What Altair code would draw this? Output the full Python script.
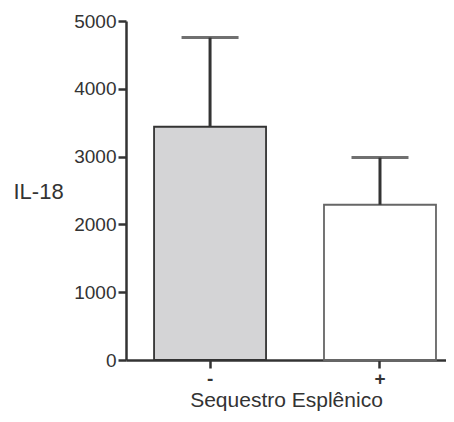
import altair as alt
import pandas as pd

groups = ["-", "+"]
means = [3440, 2290]
sem = [1315, 695]
fills = ["#d4d4d6", "#ffffff"]
strokes = ["#333333", "#666666"]

df = pd.DataFrame({
    "g": groups,
    "mean": means,
    "upper": [m + s for m, s in zip(means, sem)],
})

xscale = alt.Scale(domain=groups, paddingInner=0.341, paddingOuter=0.112, align=0.737)
font = "Liberation Sans"
ink = "#333333"

x = alt.X("g:N", scale=xscale, sort=groups, title="Sequestro Esplênico",
          axis=alt.Axis(labelAngle=0, labelFontSize=19, labelFontWeight="bold",
                        labelColor=ink, titleFontSize=21, titleFontWeight="normal",
                        titleColor=ink, titlePadding=1, tickSize=8,
                        tickWidth=2.5, tickColor=ink, domainWidth=2.5,
                        domainColor=ink, labelPadding=1, titleFont=font,
                        labelFont=font, grid=False))

bars = alt.Chart(df).mark_bar(strokeWidth=1.8).encode(
    x=x,
    y=alt.Y("mean:Q", scale=alt.Scale(domain=[0, 5000], nice=False),
            title="IL-18",
            axis=alt.Axis(values=[0, 1000, 2000, 3000, 4000, 5000], grid=False,
                          format="d",
                          labelFontSize=19, labelColor=ink, labelFont=font,
                          titleFont=font, titleFontSize=22, titleFontWeight="normal",
                          titleColor=ink, titleAngle=0, titleAlign="left",
                          titleBaseline="middle", titleX=-113, titleY=170,
                          tickSize=8, tickWidth=2.5, tickColor=ink,
                          domainWidth=2.5, domainColor=ink, labelPadding=2)),
    fill=alt.Fill("g:N", scale=alt.Scale(domain=groups, range=fills), legend=None),
    stroke=alt.Stroke("g:N", scale=alt.Scale(domain=groups, range=strokes), legend=None),
)

rule = alt.Chart(df).mark_rule(color=ink, strokeWidth=3).encode(
    x=alt.X("g:N", scale=xscale, sort=groups),
    y="mean:Q",
    y2="upper:Q",
)

cap = alt.Chart(df).mark_tick(color=ink, thickness=3, size=57).encode(
    x=alt.X("g:N", scale=xscale, sort=groups),
    y="upper:Q",
)

chart = alt.layer(bars, rule, cap).properties(
    width=320, height=339,
    background="#ffffff",
    autosize=alt.AutoSizeParams(type="none"),
    padding={"left": 118, "top": 13, "right": 0, "bottom": 54},
).configure_view(stroke="transparent").configure_axis(grid=False)

chart.save("out.html", embed_options={"renderer": "svg", "actions": False})
